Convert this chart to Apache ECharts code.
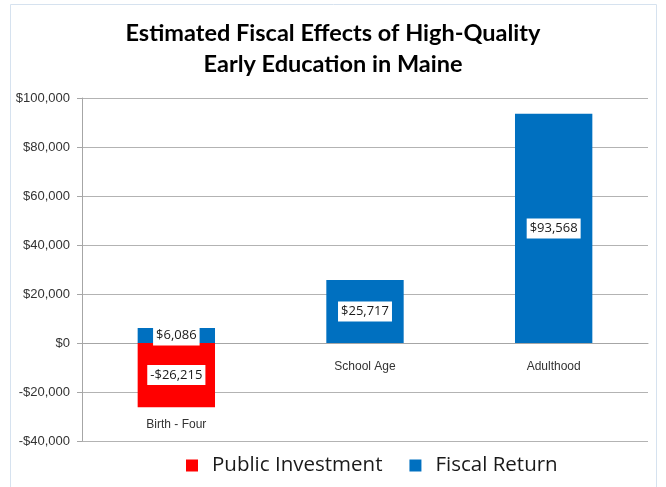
<!DOCTYPE html>
<html>
<head>
<meta charset="utf-8">
<script src="https://cdn.jsdelivr.net/npm/echarts@6/dist/echarts.min.js"></script>
<style>
  html, body { margin: 0; padding: 0; background: #fff; }
  #chart { width: 666px; height: 487px; }
</style>
</head>
<body>
<div id="chart"></div>
<script>
// data
const categories = ['Birth - Four', 'School Age', 'Adulthood'];
const publicInvestment = [-26215, '-', '-'];
const fiscalReturn = [6086, 25717, 93568];

const money = v => (v < 0 ? '-$' : '$') + Math.abs(v).toLocaleString('en-US');

const labelStyle = {
  show: true,
  position: 'inside',
  backgroundColor: '#fff',
  padding: [4, 3, 3, 3],
  color: '#1a1a1a',
  fontFamily: 'Open Sans',
  fontSize: 13,
  formatter: p => money(p.value)
};

const chart = echarts.init(document.getElementById('chart'));
chart.setOption({
  animation: false,
  title: {
    text: 'Estimated Fiscal Effects of High-Quality\nEarly Education in Maine',
    left: 'center',
    top: 13,
    textStyle: { fontFamily: 'Lato', fontWeight: 'bold', fontSize: 23.5, lineHeight: 31, color: '#000' }
  },
  graphic: [{
    type: 'rect',
    shape: { x: 10.5, y: 4.5, width: 646, height: 490 },
    style: { fill: 'none', stroke: '#d6e2ef', lineWidth: 1 },
    silent: true
  }],
  legend: {
    bottom: 6,
    left: 181,
    itemWidth: 12,
    itemHeight: 12,
    itemGap: 27,
    icon: 'rect',
    textStyle: { fontFamily: 'Open Sans', fontSize: 20.5, color: '#1a1a1a', padding: [0, 0, 0, 9] },
    data: ['Public Investment', 'Fiscal Return']
  },
  grid: { left: 82, right: 18, top: 98, bottom: 46, outerBoundsMode: 'none', containLabel: false },
  xAxis: {
    type: 'category',
    data: categories,
    axisLine: { onZero: true, lineStyle: { color: '#a6a6a6' } },
    axisTick: { length: 4, lineStyle: { color: '#a6a6a6' } },
    axisLabel: {
      // labels sit at the grid bottom, pull them up to the zero line
      margin: -80,
      fontFamily: 'Liberation Sans',
      fontSize: 12,
      color: '#333',
      formatter: v => v === 'Birth - Four' ? '{low|' + v + '}' : v,
      rich: { low: { padding: [58, 0, 0, 0], fontFamily: 'Liberation Sans', fontSize: 12, color: '#333' } }
    }
  },
  yAxis: {
    type: 'value',
    min: -40000,
    max: 100000,
    interval: 20000,
    axisLine: { show: true, lineStyle: { color: '#a6a6a6' } },
    axisTick: { show: true, length: 5, lineStyle: { color: '#a6a6a6' } },
    splitLine: { lineStyle: { color: '#b3b3b3' } },
    axisLabel: {
      margin: 12,
      fontFamily: 'Liberation Sans',
      fontSize: 13,
      color: '#333',
      formatter: money
    }
  },
  series: [
    {
      name: 'Public Investment',
      type: 'bar',
      stack: 'total',
      barWidth: '41%',
      itemStyle: { color: '#ff0000' },
      label: labelStyle,
      data: publicInvestment
    },
    {
      name: 'Fiscal Return',
      type: 'bar',
      stack: 'total',
      barWidth: '41%',
      itemStyle: { color: '#0070c0' },
      label: labelStyle,
      data: fiscalReturn
    }
  ]
});
</script>
</body>
</html>
